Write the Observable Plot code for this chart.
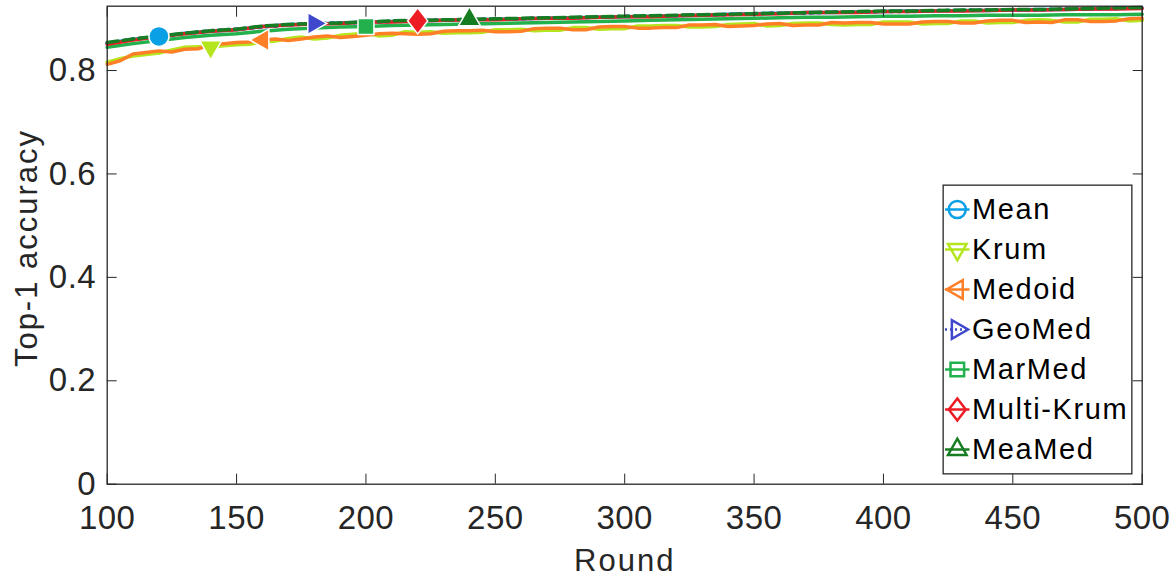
<!DOCTYPE html>
<html>
<head>
<meta charset="utf-8">
<script src="https://cdn.jsdelivr.net/npm/d3@7"></script>
<script src="https://cdn.jsdelivr.net/npm/@observablehq/plot@0.6"></script>
<style>
  html, body { margin: 0; padding: 0; background: white; }
  #wrap { position: relative; width: 1176px; height: 579px; }
  #legend { position: absolute; left: 942px; top: 184px; }
</style>
</head>
<body>
<div id="wrap"><div id="main"></div><div id="legend"></div></div>
<script>
const rounds = [100,110,120,130,140,150,160,170,180,190,200,210,220,230,240,250,260,270,280,290,300,310,320,330,340,350,360,370,380,390,400,410,420,430,440,450,460,470,480,490,500];
const roundsFine = [100,105,110,115,120,125,130,135,140,145,150,155,160,165,170,175,180,185,190,195,200,205,210,215,220,225,230,235,240,245,250,255,260,265,270,275,280,285,290,295,300,305,310,315,320,325,330,335,340,345,350,355,360,365,370,375,380,385,390,395,400,405,410,415,420,425,430,435,440,445,450,455,460,465,470,475,480,485,490,495,500];

const meanVals = [0.853,0.860,0.866,0.872,0.876,0.879,0.885,0.889,0.890,0.892,0.894,0.895,0.896,0.897,0.898,0.899,0.900,0.901,0.902,0.903,0.904,0.905,0.906,0.907,0.909,0.910,0.911,0.912,0.912,0.913,0.914,0.915,0.915,0.916,0.916,0.917,0.918,0.918,0.919,0.920,0.921];
const krumVals = [0.816,0.823,0.828,0.831,0.834,0.840,0.845,0.846,0.845,0.848, 0.850,0.851,0.855,0.857,0.862,0.865,0.861,0.863,0.868,0.870, 0.872,0.867,0.868,0.875,0.874,0.875,0.872,0.873,0.873,0.874, 0.879,0.879,0.880,0.877,0.878,0.878,0.883,0.883,0.880,0.881, 0.881,0.886,0.886,0.887,0.887,0.884,0.884,0.885,0.889,0.890, 0.891,0.886,0.887,0.891,0.892,0.892,0.889,0.888,0.889,0.889, 0.894,0.894,0.894,0.890,0.891,0.891,0.896,0.896,0.892,0.893, 0.893,0.897,0.898,0.897,0.894,0.894,0.899,0.899,0.900,0.896, 0.897];
const medoidVals = [0.812,0.819,0.832,0.835,0.838,0.836,0.841,0.842,0.849,0.852, 0.854,0.855,0.859,0.861,0.858,0.861,0.865,0.867,0.864,0.866, 0.868,0.871,0.872,0.871,0.870,0.871,0.876,0.877,0.877,0.878, 0.875,0.875,0.876,0.881,0.882,0.882,0.879,0.879,0.884,0.885, 0.885,0.882,0.882,0.883,0.883,0.888,0.888,0.889,0.885,0.886, 0.887,0.890,0.891,0.887,0.888,0.888,0.893,0.892,0.893,0.893, 0.890,0.890,0.890,0.894,0.895,0.895,0.892,0.892,0.896,0.897, 0.897,0.893,0.894,0.893,0.898,0.898,0.895,0.895,0.896,0.900, 0.901];
const geomedVals = [0.852,0.861,0.865,0.871,0.877,0.880,0.884,0.888,0.891,0.892,0.893,0.895,0.897,0.897,0.899,0.899,0.900,0.902,0.902,0.903,0.905,0.905,0.906,0.908,0.908,0.910,0.911,0.911,0.913,0.913,0.914,0.914,0.916,0.916,0.917,0.917,0.917,0.919,0.919,0.920,0.921];
const marmedVals = [0.845,0.852,0.858,0.864,0.868,0.871,0.876,0.880,0.882,0.884,0.885,0.887,0.888,0.889,0.890,0.891,0.892,0.893,0.894,0.895,0.896,0.897,0.898,0.899,0.900,0.901,0.902,0.903,0.903,0.904,0.905,0.905,0.906,0.906,0.907,0.907,0.907,0.908,0.908,0.908,0.909];
const multikrumVals = [0.851,0.859,0.866,0.871,0.876,0.879,0.885,0.888,0.890,0.891,0.894,0.894,0.896,0.897,0.898,0.898,0.900,0.901,0.901,0.903,0.904,0.904,0.906,0.907,0.908,0.909,0.910,0.912,0.912,0.912,0.914,0.914,0.915,0.915,0.916,0.917,0.917,0.918,0.919,0.919,0.920];
const meamedVals = [0.854,0.861,0.867,0.872,0.877,0.880,0.886,0.889,0.891,0.892,0.894,0.896,0.897,0.898,0.899,0.900,0.901,0.902,0.903,0.904,0.905,0.906,0.907,0.908,0.909,0.910,0.911,0.912,0.913,0.914,0.915,0.915,0.916,0.917,0.917,0.918,0.918,0.919,0.920,0.921,0.922];

const seriesNames = ["Mean","Krum","Medoid","GeoMed","MarMed","Multi-Krum","MeaMed"];
const seriesColors = ["#0aa0e6","#b5e61d","#ff7f27","#3f48cc","#22b14c","#ed1c24","#177d22"];
const markerRounds = [120,140,160,180,200,220,240];
const xTicks = [100,150,200,250,300,350,400,450,500];
const yTicks = [0,0.2,0.4,0.6,0.8];
const xTitle = "Round";
const yTitle = "Top-1 accuracy";

// custom marker shapes (MATLAB-like)
function poly(pts) {
  return { draw(ctx, size) {
    const r = Math.sqrt(size / Math.PI);
    ctx.moveTo(pts[0][0]*r, pts[0][1]*r);
    for (let i = 1; i < pts.length; i++) ctx.lineTo(pts[i][0]*r, pts[i][1]*r);
    ctx.closePath();
  }};
}
const triUp = poly([[0,-1.27],[1.09,0.64],[-1.09,0.64]]);
const triDown = poly([[0,1.27],[1.09,-0.64],[-1.09,-0.64]]);
const triLeft = poly([[-1.27,0],[0.64,1.09],[0.64,-1.09]]);
const triRight = poly([[1.27,0],[-0.64,1.09],[-0.64,-1.09]]);
const square = poly([[-0.8,-0.8],[0.8,-0.8],[0.8,0.8],[-0.8,0.8]]);
const diamond = poly([[0,-1.3],[1.0,0],[0,1.3],[-1.0,0]]);

const seriesValues = [meanVals, krumVals, medoidVals, geomedVals, marmedVals, multikrumVals, meamedVals];
const seriesRounds = [rounds, roundsFine, roundsFine, rounds, rounds, rounds, rounds];
const seriesSymbols = ["circle", triDown, triLeft, triRight, square, diamond, triUp];
const seriesDash = [null, null, null, "3,5", null, null, "11,5"];
const legendDash = [null, null, null, "2,3", null, null, null];

const series = seriesNames.map((name, k) => {
  const rs = seriesRounds[k];
  return {
    name, color: seriesColors[k], symbol: seriesSymbols[k], dash: seriesDash[k], ldash: legendDash[k],
    data: rs.map((r, i) => ({round: r, value: seriesValues[k][i]})),
    marker: [{round: markerRounds[k], value: seriesValues[k][rs.indexOf(markerRounds[k])]}]
  };
});

const axisColor = "#262626";
const font = "'Liberation Sans', Arial, Helvetica, sans-serif";

const chart = Plot.plot({
  width: 1176, height: 579,
  marginLeft: 106.7, marginRight: 34.3, marginTop: 5.7, marginBottom: 95.3,
  style: {fontFamily: font, background: "white", color: axisColor, overflow: "visible"},
  x: {domain: [100, 500]},
  y: {domain: [0, 0.9244]},
  marks: [
    ...series.map(s => Plot.line(s.data, {x: "round", y: "value", stroke: s.color, strokeWidth: 3.5, strokeDasharray: s.dash, strokeLinejoin: "round"})),
    ...series.map(s => Plot.dot(s.marker, {x: "round", y: "value", symbol: s.symbol, r: 10, fill: s.color, stroke: "white", strokeWidth: 1.5})),
    Plot.frame({stroke: axisColor, strokeWidth: 1.3}),
    Plot.axisX(xTicks, {anchor: "bottom", tickSize: -10, tickPadding: 31.3, fontSize: 33, label: null, tickFormat: d => String(d)}),
    Plot.axisX(xTicks, {anchor: "top", tickSize: -10, label: null, tickFormat: () => ""}),
    Plot.axisY(yTicks, {anchor: "left", tickSize: -10, tickPadding: 21, fontSize: 33, label: null, tickFormat: d => d === 0 ? "0" : d.toFixed(1)}),
    Plot.axisY(yTicks, {anchor: "right", tickSize: -10, label: null, tickFormat: () => ""}),
    Plot.text([xTitle], {frameAnchor: "bottom", lineAnchor: "middle", textAnchor: "middle", dy: 76.4, text: d => d, fontSize: 31, fill: axisColor}),
    Plot.text([yTitle], {frameAnchor: "left", lineAnchor: "middle", textAnchor: "middle", rotate: -90, dx: -80.6, dy: 2.8, text: d => d, fontSize: 31, fill: axisColor})
  ]
});
document.getElementById("main").appendChild(chart);

const legend = Plot.plot({
  width: 190, height: 290, margin: 0,
  style: {fontFamily: font, background: "transparent", overflow: "visible"},
  x: {type: "identity", axis: null},
  y: {type: "point", domain: seriesNames, range: [24, 265.5], padding: 0, axis: null},
  marks: [
    Plot.frame({fill: "white", stroke: axisColor, strokeWidth: 1.3, inset: 0.65}),
    ...series.map(s => Plot.link([s.name], {x1: 2.5, x2: 27, y1: d => d, y2: d => d, stroke: s.color, strokeWidth: 2.5, strokeDasharray: s.ldash})),
    ...series.map(s => Plot.dot([s.name], {x: 14.8, y: d => d, symbol: s.symbol, r: 8.5, fill: "none", stroke: s.color, strokeWidth: 2.5})),
    Plot.text(seriesNames, {x: 29.5, y: d => d, text: d => d, textAnchor: "start", fontSize: 29, fill: "black"})
  ]
});
document.getElementById("legend").appendChild(legend);

// widen text spacing to mimic the original's Helvetica rendering
d3.select(chart).selectAll("text").each(function() {
  const t = this.textContent;
  if (t === xTitle || t === yTitle) this.setAttribute("letter-spacing", "2px");
  else if (t) this.setAttribute("letter-spacing", "0.5px");
});
d3.select(legend).selectAll("text").attr("letter-spacing", "1.6px");
</script>
</body>
</html>
